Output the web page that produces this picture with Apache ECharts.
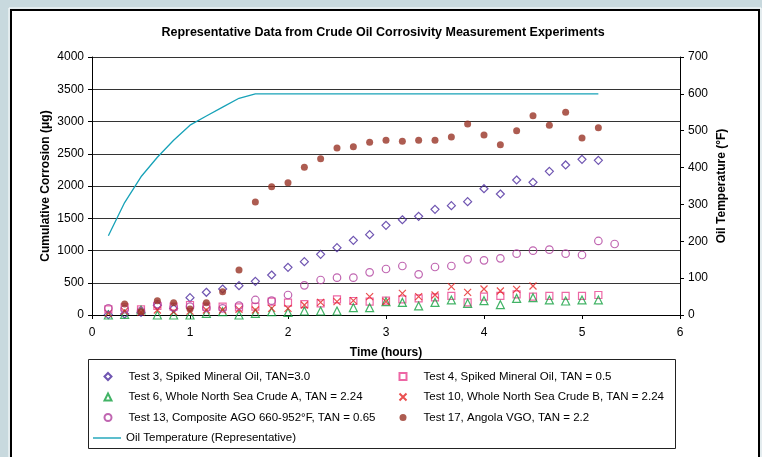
<!DOCTYPE html>
<html>
<head>
<meta charset="utf-8">
<script src="https://cdn.jsdelivr.net/npm/echarts@6/dist/echarts.min.js"></script>
<style>
html,body{margin:0;padding:0;background:#C8D9DE;}
#c{width:762px;height:457px;}
</style>
</head>
<body>
<div id="c"></div>
<script>
// ---- data ----
const times = [0.167,0.333,0.5,0.667,0.833,1.0,1.167,1.333,1.5,1.667,1.833,2.0,2.167,2.333,2.5,2.667,2.833,3.0,3.167,3.333,3.5,3.667,3.833,4.0,4.167,4.333,4.5,4.667,4.833,5.0,5.167,5.333];

const test3 = [5,15,40,150,100,269,352,403,455,522,620,739,827,941,1044,1158,1245,1390,1477,1530,1638,1695,1757,1958,1876,2093,2057,2227,2326,2413,2398];
const test4 = [88,119,88,140,129,155,129,129,119,129,207,191,170,181,243,217,207,222,243,258,274,295,196,284,295,320,284,295,295,295,310];
const test6 = [0,10,78,0,0,0,26,52,0,26,52,40,62,62,62,114,114,207,196,140,196,233,181,222,160,258,269,233,217,233,233];
const test10 = [26,60,41,78,52,60,78,78,88,78,103,103,155,196,207,222,284,207,336,284,310,439,351,403,372,398,450];
const test13 = [103,90,60,170,120,130,110,103,145,233,222,310,460,543,579,579,662,713,760,631,744,760,863,848,879,951,998,1013,951,930,1148,1101];
const test17 = [170,50,222,191,93,191,361,698,1752,1989,2052,2290,2424,2589,2610,2677,2708,2692,2708,2708,2760,2961,2791,2640,2857,3090,2940,3142,2744,2903];
const test17Start = 1; // first Test 17 reading is at the 2nd time step
const oilTemp = [215,305,375,428,474,515,540,564,588,600,600,600,600,600,600,600,600,600,600,600,600,600,600,600,600,600,600,600,600,600,600];

const names = {
  t3: 'Test 3, Spiked Mineral Oil, TAN=3.0',
  t4: 'Test 4, Spiked Mineral Oil, TAN = 0.5',
  t6: 'Test 6, Whole North Sea Crude A, TAN = 2.24',
  t10: 'Test 10, Whole North Sea Crude B, TAN = 2.24',
  t13: 'Test 13, Composite AGO 660-952°F, TAN = 0.65',
  t17: 'Test 17, Angola VGO, TAN = 2.2',
  oil: 'Oil Temperature (Representative)'
};
const yTicksLeft = {min:0, max:4000, interval:500};
const yTicksRight = {min:0, max:700, interval:100};
const xTicks = {min:0, max:6, interval:1};

function pairs(vals, start){ start = start||0; return vals.map((v,i)=>[times[start+i], v]); }

const FONT = 'Liberation Sans, Arial, sans-serif';
const xPath = 'path://M0,0L10,10M10,0L0,10';

function hollow(name, data, symbol, size, color){
  return {name, type:'scatter', data, symbol, symbolSize:size,
    itemStyle:{color:'rgba(255,255,255,0)', borderColor:color, borderWidth:1.2},
    emphasis:{disabled:true}};
}
const plain = v => String(v);

const chart = echarts.init(document.getElementById('c'), null, {renderer:'canvas'});
const legendText = {fontFamily:FONT, fontSize:11.5, color:'#000', lineHeight:14,
  rich:{t:{fontFamily:FONT, fontSize:11.5, color:'#000', lineHeight:14, padding:[0,0,0,12]}}};
const nameStyle = {fontFamily:FONT, fontSize:12, fontWeight:'bold', color:'#000'};
const tickStyle = {color:'#000', fontFamily:FONT, fontSize:12};
chart.setOption({
  animation:false,
  backgroundColor:'transparent',
  graphic:[
    {type:'rect', z:-10, shape:{x:9, y:8, width:752, height:460}, style:{fill:'none', stroke:'#ffffff', lineWidth:1}},
    {type:'rect', z:-9, shape:{x:11, y:10, width:748, height:460}, style:{fill:'#ffffff', stroke:'#000000', lineWidth:2}},
    {type:'rect', z:-8, shape:{x:88.5, y:359.5, width:587, height:89}, style:{fill:'#ffffff', stroke:'#222', lineWidth:1}}
  ],
  title:{text:'Representative Data from Crude Oil Corrosivity Measurement Experiments', left:378, textAlign:'center', top:21,
    textStyle:{fontFamily:FONT, fontSize:12.5, fontWeight:'bold', color:'#000'}},
  grid:{left:92, right:82, top:57, bottom:142},
  xAxis:{type:'value', min:xTicks.min, max:xTicks.max, interval:xTicks.interval,
    name:'Time (hours)', nameLocation:'middle', nameGap:32, nameMoveOverlap:false, nameTextStyle:nameStyle,
    axisLine:{lineStyle:{color:'#000', width:1}}, axisTick:{length:4, lineStyle:{color:'#000'}},
    axisLabel:Object.assign({margin:12, formatter:plain}, tickStyle), splitLine:{show:false}},
  yAxis:[
    {type:'value', min:yTicksLeft.min, max:yTicksLeft.max, interval:yTicksLeft.interval,
      name:'Cumulative Corrosion (μg)', nameLocation:'middle', nameGap:40, nameRotate:90, nameMoveOverlap:false, nameTextStyle:nameStyle,
      axisLine:{show:true, lineStyle:{color:'#000'}}, axisTick:{show:true, length:4, lineStyle:{color:'#000'}},
      axisLabel:Object.assign({margin:8, formatter:plain}, tickStyle),
      splitLine:{show:true, lineStyle:{color:'#333', width:1}}},
    {type:'value', position:'right', min:yTicksRight.min, max:yTicksRight.max, interval:yTicksRight.interval,
      name:'Oil Temperature (°F)', nameLocation:'middle', nameGap:36, nameRotate:90, nameMoveOverlap:false, nameTextStyle:nameStyle,
      axisLine:{show:true, lineStyle:{color:'#000'}}, axisTick:{show:true, length:4, lineStyle:{color:'#000'}},
      axisLabel:Object.assign({margin:8, formatter:plain}, tickStyle), splitLine:{show:false}}
  ],
  legend:[
    {orient:'vertical', left:103.5, top:369.5, padding:0, itemWidth:7, itemHeight:7, itemGap:6.5, selectedMode:false,
      formatter:'{t|{name}}', data:[names.t3, names.t6, names.t13], textStyle:legendText},
    {orient:'vertical', left:398.5, top:369.5, padding:0, itemWidth:7, itemHeight:7, itemGap:6.5, selectedMode:false,
      formatter:'{t|{name}}', data:[names.t4, names.t10, names.t17], textStyle:legendText},
    {orient:'vertical', left:93, top:431, padding:0, itemWidth:28, itemHeight:1.4, symbolKeepAspect:false, selectedMode:false,
      data:[{name:names.oil, icon:'rect'}], textStyle:{fontFamily:FONT, fontSize:11.5, color:'#000', lineHeight:14}}
  ],
  series:[
    hollow(names.t3, pairs(test3), 'diamond', 8, '#4B2A9E'),
    hollow(names.t4, pairs(test4), 'rect', 7, '#E8418E'),
    hollow(names.t6, pairs(test6), 'triangle', 8, '#13A040'),
    hollow(names.t10, pairs(test10), xPath, 7, '#E52424'),
    hollow(names.t13, pairs(test13), 'circle', 7.5, '#B0409E'),
    {name:names.t17, type:'scatter', data:pairs(test17, test17Start), symbol:'circle', symbolSize:7,
      itemStyle:{color:'#993326'}, emphasis:{disabled:true}},
    {name:names.oil, type:'line', yAxisIndex:1, data:pairs(oilTemp), symbol:'none', showSymbol:false,
      lineStyle:{color:'#17A2B8', width:1.3}, itemStyle:{color:'#17A2B8'}, emphasis:{disabled:true}}
  ]
});
</script>
</body>
</html>
